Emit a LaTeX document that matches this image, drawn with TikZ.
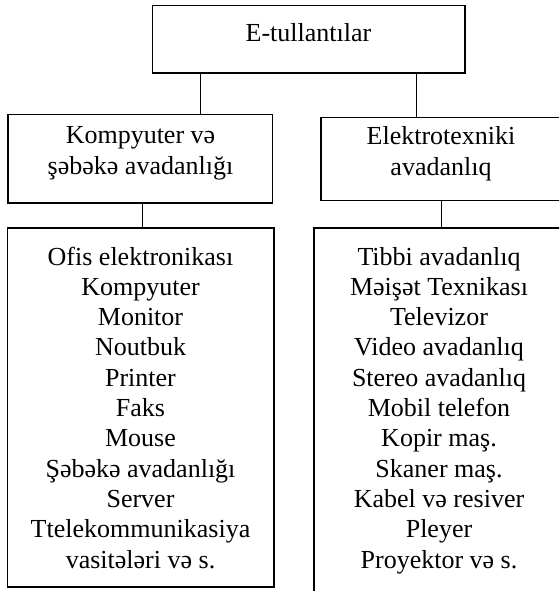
\documentclass[tikz,border=0pt]{standalone}
\usepackage{fontspec}
\setmainfont{Liberation Serif}
\begin{document}
\begin{tikzpicture}[x=1pt,y=1pt,
  box/.style={draw,line width=1.4pt,inner sep=0pt,outer sep=0pt},
  link/.style={line width=1.4pt},
  txt/.style={align=center,anchor=base,inner sep=0pt,font=\fontsize{26}{30.3}\selectfont}]
\clip (0,0) rectangle (559,-591);
\fill[white] (0,0) rectangle (559,-591);
% boxes
\node[box,minimum width=312.4pt,minimum height=67.7pt] (top) at (308.8,-39.15) {};
\node[box,minimum width=264.9pt,minimum height=88.2pt] (kvs) at (140.25,-158.9) {};
\node[box,minimum width=280pt,minimum height=83.1pt] (ea) at (460.9,-159.15) {};
\node[box,minimum width=266.7pt,minimum height=359pt] (l1) at (140.65,-407.5) {};
\node[box,minimum width=290pt,minimum height=400pt] (l2) at (459,-428) {};
% texts (anchor base = baseline of last line)
\node[txt] (ttop) at (308.5,-42) {E-tullantılar};
\node[txt] (tkvs) at (140.5,-174) {Kompyuter və\\şəbəkə avadanlığı};
\node[txt] (tea) at (441,-175) {Elektrotexniki\\avadanlıq};
\node[txt] (tl1) at (140.5,-568) {Ofis elektronikası\\Kompyuter\\Monitor\\Noutbuk\\Printer\\Faks\\Mouse\\Şəbəkə avadanlığı\\Server\\Ttelekommunikasiya\\vasitələri və s.};
\node[txt] (tl2) at (439,-568) {Tibbi avadanlıq\\Məişət Texnikası\\Televizor\\Video avadanlıq\\Stereo avadanlıq\\Mobil telefon\\Kopir maş.\\Skaner maş.\\Kabel və resiver\\Pleyer\\Proyektor və s.};
% connectors
\coordinate (c1) at (200.7,0);
\coordinate (c2) at (416.4,0);
\coordinate (c3) at (142.6,0);
\coordinate (c4) at (441.7,0);
\draw[link] (top.south -| c1) -- (kvs.north -| c1);
\draw[link] (top.south -| c2) -- (ea.north -| c2);
\draw[link] (kvs.south -| c3) -- (l1.north -| c3);
\draw[link] (ea.south -| c4) -- (l2.north -| c4);
\end{tikzpicture}
\end{document}
